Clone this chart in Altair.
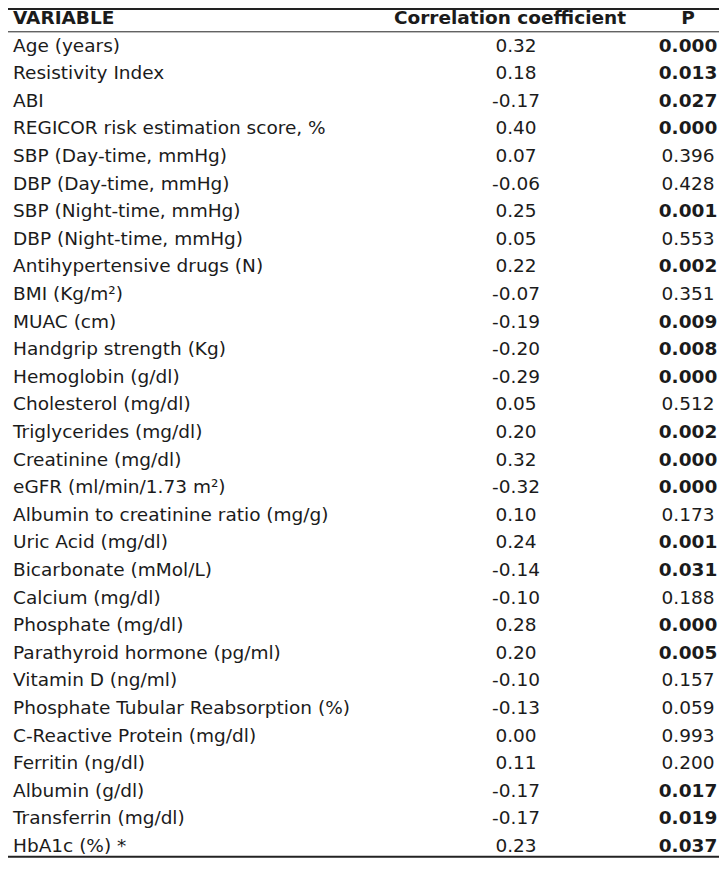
import altair as alt
import pandas as pd

variables = [
    "Age (years)", "Resistivity Index", "ABI", "REGICOR risk estimation score, %",
    "SBP (Day-time, mmHg)", "DBP (Day-time, mmHg)", "SBP (Night-time, mmHg)",
    "DBP (Night-time, mmHg)", "Antihypertensive drugs (N)", "BMI (Kg/m\u00b2)",
    "MUAC (cm)", "Handgrip strength (Kg)", "Hemoglobin (g/dl)", "Cholesterol (mg/dl)",
    "Triglycerides (mg/dl)", "Creatinine (mg/dl)", "eGFR (ml/min/1.73 m\u00b2)",
    "Albumin to creatinine ratio (mg/g)", "Uric Acid (mg/dl)", "Bicarbonate (mMol/L)",
    "Calcium (mg/dl)", "Phosphate (mg/dl)", "Parathyroid hormone (pg/ml)",
    "Vitamin D (ng/ml)", "Phosphate Tubular Reabsorption (%)", "C-Reactive Protein (mg/dl)",
    "Ferritin (ng/dl)", "Albumin (g/dl)", "Transferrin (mg/dl)", "HbA1c (%) *",
]
coefficients = ["0.32", "0.18", "-0.17", "0.40", "0.07", "-0.06", "0.25", "0.05", "0.22",
                "-0.07", "-0.19", "-0.20", "-0.29", "0.05", "0.20", "0.32", "-0.32", "0.10",
                "0.24", "-0.14", "-0.10", "0.28", "0.20", "-0.10", "-0.13", "0.00", "0.11",
                "-0.17", "-0.17", "0.23"]
p_values = ["0.000", "0.013", "0.027", "0.000", "0.396", "0.428", "0.001", "0.553", "0.002",
            "0.351", "0.009", "0.008", "0.000", "0.512", "0.002", "0.000", "0.000", "0.173",
            "0.001", "0.031", "0.188", "0.000", "0.005", "0.157", "0.059", "0.993", "0.200",
            "0.017", "0.019", "0.037"]
headers = ["VARIABLE", "Correlation coefficient", "P"]

df = pd.DataFrame({
    "row": list(range(1, len(variables) + 1)),
    "variable": variables,
    "coef": coefficients,
    "p": p_values,
})
df["sig"] = df["p"].astype(float) < 0.05

hdr = pd.DataFrame({"row": [0], "h1": [headers[0]], "h2": [headers[1]], "h3": [headers[2]]})

# table border lines, in row units (top, under header, bottom)
thick_rules = pd.DataFrame({"row": [-0.33, 30.39]})
thin_rules = pd.DataFrame({"row": [0.5]})

FONT = "DejaVu Sans"
FS = 18.5
COLOR = "#1b1b1b"
W, H = 711, 850

ROW_H = 27.6
TOP = 10
yscale = alt.Scale(domain=[-1, 31], range=[TOP - ROW_H, TOP + 31 * ROW_H], nice=False, zero=False)
Y = alt.Y("row:Q", scale=yscale, axis=None)

def txt(align, weight="normal"):
    return dict(align=align, baseline="middle", font=FONT, fontSize=FS, color=COLOR, fontWeight=weight)

base = alt.Chart(df)
col_var = base.mark_text(**txt("left")).encode(x=alt.value(5), y=Y, text="variable:N")
col_coef = base.mark_text(**txt("center")).encode(x=alt.value(508), y=Y, text="coef:N")
col_p_sig = base.transform_filter("datum.sig").mark_text(**txt("center", "bold")).encode(
    x=alt.value(680), y=Y, text="p:N")
col_p_ns = base.transform_filter("!datum.sig").mark_text(**txt("center")).encode(
    x=alt.value(680), y=Y, text="p:N")

hbase = alt.Chart(hdr)
h1 = hbase.mark_text(**txt("left", "bold")).encode(x=alt.value(5), y=Y, text="h1:N")
h2 = hbase.mark_text(**txt("center", "bold")).encode(x=alt.value(502), y=Y, text="h2:N")
h3 = hbase.mark_text(**txt("center", "bold")).encode(x=alt.value(680), y=Y, text="h3:N")

rules_thick = alt.Chart(thick_rules).mark_rule(color="#222222", strokeWidth=2).encode(
    y=Y, x=alt.value(0), x2=alt.value(W))
rules_thin = alt.Chart(thin_rules).mark_rule(color="#222222", strokeWidth=1).encode(
    y=Y, x=alt.value(0), x2=alt.value(W))

chart = alt.layer(
    rules_thick, rules_thin,
    col_var, col_coef, col_p_sig, col_p_ns, h1, h2, h3,
).properties(
    width=W, height=H, padding=0, autosize=alt.AutoSizeParams(type="none"),
    background="white",
).configure_view(stroke=None)

chart.save("out.html", embed_options={"renderer": "svg", "actions": False})
